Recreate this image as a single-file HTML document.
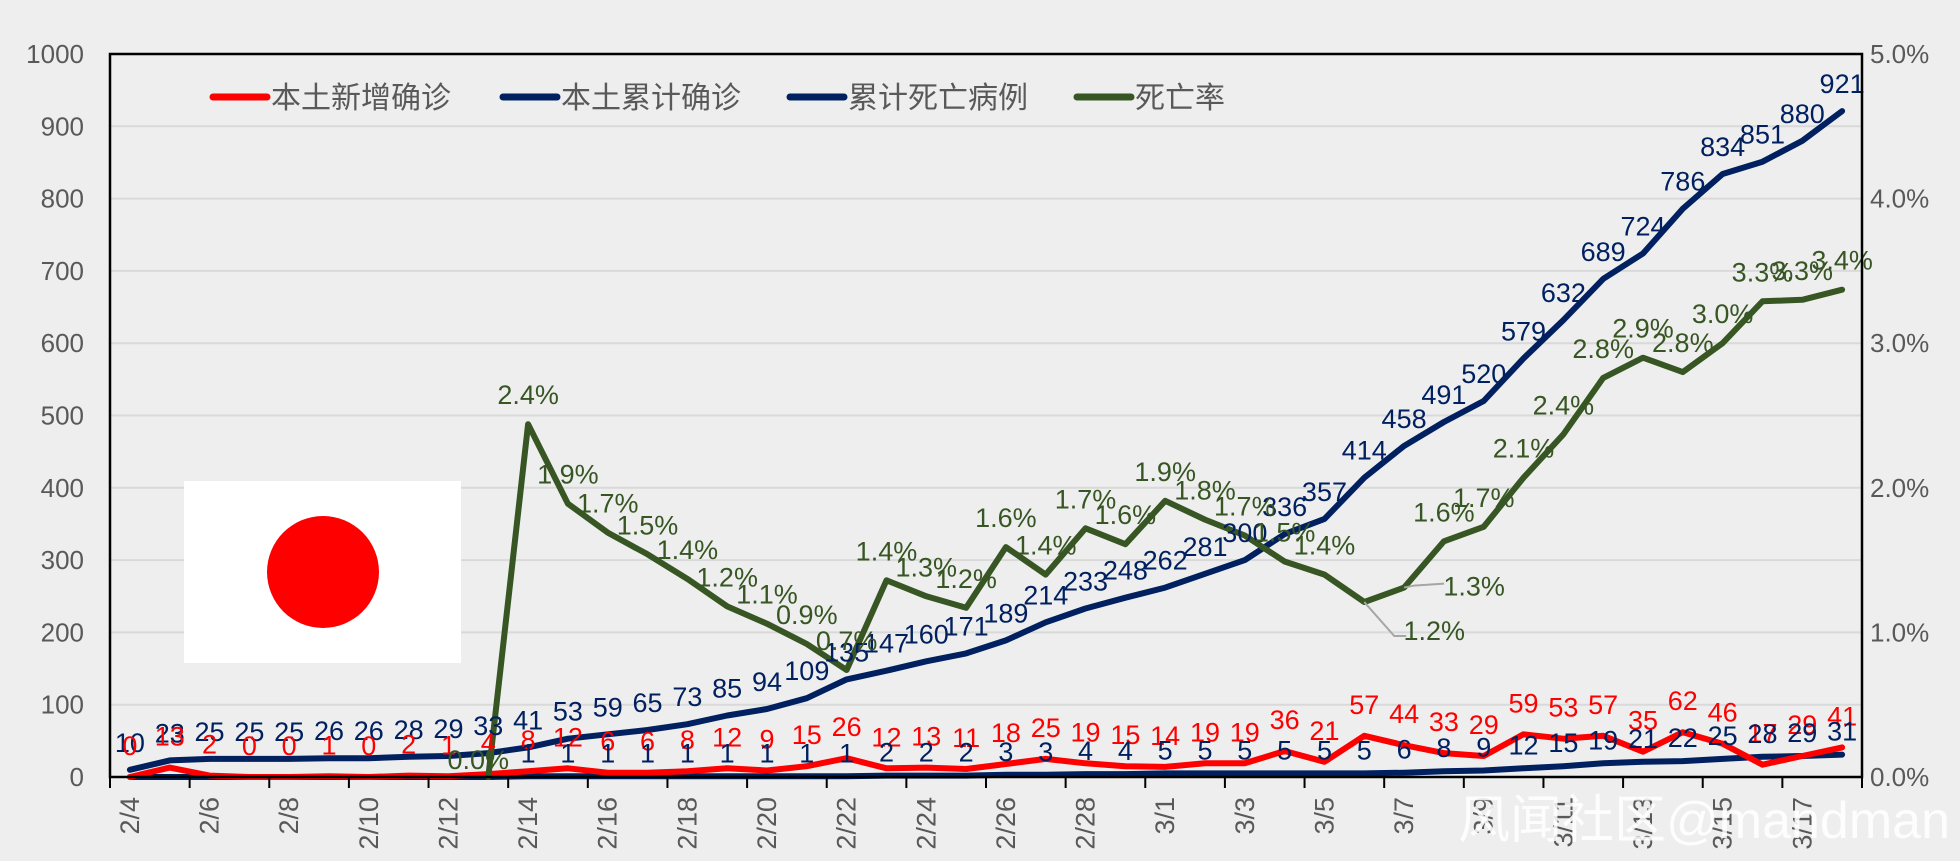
<!DOCTYPE html>
<html><head><meta charset="utf-8"><style>
html,body{margin:0;padding:0;background:#eeeeee;}
svg{display:block;font-family:"Liberation Sans Narrow","Liberation Sans","Noto Sans CJK SC",sans-serif;}
</style></head><body>
<svg id="chart" width="1960" height="861" viewBox="0 0 1960 861" xmlns="http://www.w3.org/2000/svg">
<rect x="0" y="0" width="1960" height="861" fill="#eeeeee"/>
<g id="grid"></g>
<g id="flag">
<rect x="184" y="481" width="277" height="182" fill="#ffffff"/>
<circle cx="323" cy="572" r="56" fill="#ff0000"/>
</g>
<g id="series"></g>
<g id="labels"></g>
<rect x="110" y="54" width="1752" height="723" fill="none" stroke="#000" stroke-width="2.5"/>
<g id="axes"></g>
<g id="legend"></g>
<text x="1950" y="838" text-anchor="end" font-size="52" fill="#ffffff" fill-opacity="0.85">风闻社区@mandman</text>
</svg>
<script>
const dates = ["2/4","2/5","2/6","2/7","2/8","2/9","2/10","2/11","2/12","2/13","2/14","2/15","2/16","2/17","2/18","2/19","2/20","2/21","2/22","2/23","2/24","2/25","2/26","2/27","2/28","2/29","3/1","3/2","3/3","3/4","3/5","3/6","3/7","3/8","3/9","3/10","3/11","3/12","3/13","3/14","3/15","3/16","3/17","3/18"];
const newCases = [0,13,2,0,0,1,0,2,1,4,8,12,6,6,8,12,9,15,26,12,13,11,18,25,19,15,14,19,19,36,21,57,44,33,29,59,53,57,35,62,46,17,29,41];
const cumCases = [10,23,25,25,25,26,26,28,29,33,41,53,59,65,73,85,94,109,135,147,160,171,189,214,233,248,262,281,300,336,357,414,458,491,520,579,632,689,724,786,834,851,880,921];
const cumDeaths = [0,0,0,0,0,0,0,0,0,0,1,1,1,1,1,1,1,1,1,2,2,2,3,3,4,4,5,5,5,5,5,5,6,8,9,12,15,19,21,22,25,28,29,31];
const deathRate = [null,null,null,null,null,null,null,null,null,0.0,2.44,1.89,1.69,1.54,1.37,1.18,1.06,0.92,0.74,1.36,1.25,1.17,1.59,1.40,1.72,1.61,1.91,1.78,1.67,1.49,1.40,1.21,1.31,1.63,1.73,2.07,2.37,2.76,2.90,2.80,3.00,3.29,3.30,3.37];
const leftTicks = [0,100,200,300,400,500,600,700,800,900,1000];
const rightTicks = ["0.0%","1.0%","2.0%","3.0%","4.0%","5.0%"];

const NS="http://www.w3.org/2000/svg";
const L=110,R=1862,T=54,B=777;
const step=(R-L)/dates.length;
const x=i=>L+step/2+i*step;
const y=v=>B-(v/1000)*(B-T);
const yr=p=>B-(p/5)*(B-T);
function mk(tag,attrs,parent){const e=document.createElementNS(NS,tag);for(const k in attrs)e.setAttribute(k,attrs[k]);parent.appendChild(e);return e;}
const grid=document.getElementById('grid'),axes=document.getElementById('axes'),series=document.getElementById('series'),labels=document.getElementById('labels'),legend=document.getElementById('legend');

leftTicks.forEach(v=>{
  const g=mk('line',{x1:L,x2:R,y1:y(v),y2:y(v),stroke:'#d9d9d9','stroke-width':2},grid);
  
  
  const t=mk('text',{x:84,y:y(v)+9,'text-anchor':'end','font-size':26,fill:'#595959'},axes);
  t.textContent=v;
  
  
});
rightTicks.forEach((s,k)=>{
  const t=mk('text',{x:1870,y:yr(k)+9,'font-size':26,fill:'#595959'},axes);
  t.textContent=s;
  
  
});
for(let i=0;i<=dates.length;i+=2){
  const tk=mk('line',{x1:L+i*step,x2:L+i*step,y1:B,y2:B+11,stroke:'#000','stroke-width':2},axes);
  
  
}
dates.forEach((d,i)=>{
  if(i%2)return;
  const t=mk('text',{x:0,y:0,'text-anchor':'end','font-size':27,fill:'#595959',transform:`translate(${x(i)+9},797) rotate(-90)`},axes);
  t.textContent=d;
  
  
});

function line(vals,fy,color,name){
  let d='';vals.forEach((v,i)=>{if(v===null)return;d+=(d?'L':'M')+x(i).toFixed(1)+','+fy(v).toFixed(1);});
  const p=mk('path',{d:d,fill:'none',stroke:color,'stroke-width':6,'stroke-linejoin':'round','stroke-linecap':'round'},series);
  
  
}
line(cumDeaths,y,'#002060','cum-deaths-line');
line(newCases,y,'#ff0000','new-cases-line');
line(cumCases,y,'#002060','cum-cases-line');
line(deathRate,yr,'#375623','death-rate-line');

function lab(i,py,txt,color,name,dx,dy){
  const t=mk('text',{x:x(i)+(dx||0),y:py+(dy||-18),'text-anchor':'middle','font-size':27,fill:color},labels);
  t.textContent=txt;
  
  
}
cumCases.forEach((v,i)=>lab(i,y(v),v,'#002060','cum-cases-label'));
newCases.forEach((v,i)=>lab(i,y(v),v,'#ff0000','new-cases-label',0,-22));
cumDeaths.forEach((v,i)=>{if(i>=10)lab(i,y(v),v,'#002060','cum-deaths-label',0,-14);});
deathRate.forEach((v,i)=>{
  if(v===null)return;
  let dx=0,dy=-20;
  if(i===31){dx=70;dy=38;}
  if(i===32){dx=70;dy=8;}
  if(i===9){dx=-10;dy=-8;}
  lab(i,yr(v),v.toFixed(1)+'%','#375623','death-rate-label',dx,dy);
});
[[31,42,38],[32,40,8]].forEach(([i,ex,ey])=>{
  const l=mk('polyline',{points:`${x(i)},${yr(deathRate[i])} ${x(i)+(i===31?30:10)},${yr(deathRate[i])+(i===31?34:-2)} ${x(i)+ex},${yr(deathRate[i])+(i===31?34:-4)}`,fill:'none',stroke:'#a6a6a6','stroke-width':2},labels);
  
  
});

const leg=[["本土新增确诊","#ff0000",213],["本土累计确诊","#002060",503],["累计死亡病例","#002060",790],["死亡率","#375623",1077]];
leg.forEach(([s,c,lx])=>{
  const g=mk('g',{},legend);
  
  
  mk('line',{x1:lx,x2:lx+54,y1:97,y2:97,stroke:c,'stroke-width':7,'stroke-linecap':'round'},g);
  const t=mk('text',{x:lx+58,y:108,'font-size':30,fill:'#595959','font-family':'"Noto Sans CJK SC",sans-serif'},g);
  t.textContent=s;
});
</script>
</body></html>
